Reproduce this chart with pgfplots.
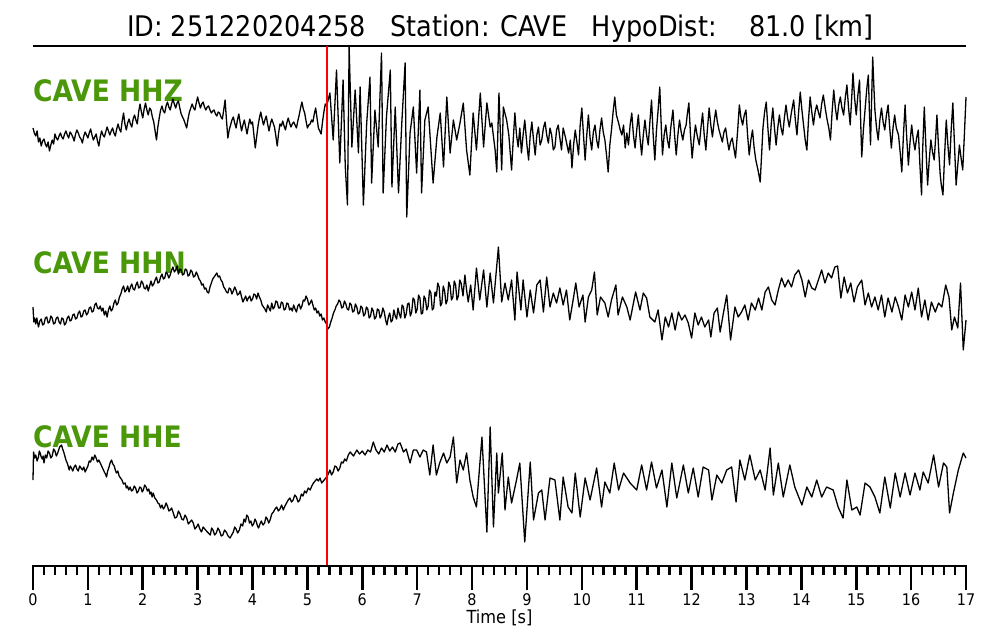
\documentclass[border=0pt]{standalone}
\usepackage{fontspec}
\setmainfont{DejaVu Sans Condensed}
\usepackage{pgfplots}
\pgfplotsset{compat=1.18}
\definecolor{lblgreen}{RGB}{74,152,10}

\begin{document}
\begin{tikzpicture}[x=1pt,y=1pt]
\useasboundingbox (0,0) rectangle (1000,640);
\node[anchor=base, inner sep=0, font=\fontsize{28.4}{34}\selectfont] at (500.5,603) {ID: 251220204258\ \ \ Station: CAVE\ \ \ HypoDist:\ \ \ \ 81.0 [km]};
\draw[line width=1.5pt] (33,594) -- (966,594);
\node[anchor=base west, inner sep=0, text=lblgreen, font=\fontsize{29.5}{35}\selectfont\bfseries] at (33,538) {CAVE HHZ};
\node[anchor=base west, inner sep=0, text=lblgreen, font=\fontsize{29.5}{35}\selectfont\bfseries] at (33,366) {CAVE HHN};
\node[anchor=base west, inner sep=0, text=lblgreen, font=\fontsize{29.5}{35}\selectfont\bfseries] at (33,193) {CAVE HHE};
\begin{axis}[at={(33pt,74pt)}, anchor=south west, scale only axis,
  width=933pt, height=520pt, xmin=0, xmax=17, ymin=46, ymax=566, y dir=reverse,
  axis x line*=bottom, axis y line=none, clip=false,
  xtick={0,1,...,17}, minor x tick num=4, tick align=outside,
  major tick length=24pt, minor tick length=9pt,
  major tick style={line width=2.6pt, black},
  minor tick style={line width=2.6pt, black},
  axis line style={line width=2.8pt, black},
  xticklabel style={font=\fontsize{16}{19}\selectfont},
  /pgf/number format/assume math mode=true,
  xlabel={Time [s]},
  xlabel style={font=\fontsize{18}{22}\selectfont, at={(axis description cs:0.5,0)}, anchor=base, yshift=-57pt}]
% HHZ
\addplot[black, line width=1.3pt, line join=round] coordinates {
(0.000,128)(0.025,133)(0.050,136)(0.075,131)(0.100,142)(0.125,138)(0.150,146)(0.175,141)(0.200,139)(0.225,144)
(0.250,147)(0.275,142)(0.300,151)(0.325,145)(0.350,140)(0.375,144)(0.400,134)(0.425,138)(0.450,140)(0.475,136)
(0.500,133)(0.525,137)(0.550,139)(0.575,134)(0.600,131)(0.625,135)(0.650,138)(0.675,132)(0.700,134)(0.725,137)
(0.750,141)(0.775,134)(0.800,130)(0.825,133)(0.850,137)(0.875,139)(0.900,143)(0.925,136)(0.950,132)(0.975,135)
(1.000,138)(1.025,133)(1.050,129)(1.075,135)(1.100,140)(1.125,137)(1.150,134)(1.175,141)(1.200,146)(1.225,137)
(1.250,131)(1.275,135)(1.300,137)(1.325,132)(1.350,127)(1.375,131)(1.400,135)(1.425,131)(1.450,128)(1.475,133)
(1.500,136)(1.525,129)(1.550,124)(1.575,129)(1.600,132)(1.625,121)(1.650,113)(1.675,124)(1.700,130)(1.725,123)
(1.750,119)(1.775,124)(1.800,127)(1.825,119)(1.850,115)(1.875,120)(1.900,124)(1.925,112)(1.950,104)(1.975,112)
(2.000,118)(2.025,109)(2.050,103)(2.075,110)(2.100,115)(2.125,108)(2.150,110)(2.175,117)(2.200,122)(2.225,131)
(2.250,140)(2.275,127)(2.300,118)(2.325,110)(2.350,106)(2.375,111)(2.400,113)(2.425,106)(2.450,102)(2.475,107)
(2.500,110)(2.525,104)(2.550,99)(2.575,104)(2.600,108)(2.625,103)(2.650,101)(2.675,108)(2.700,114)(2.725,117)
(2.750,120)(2.775,124)(2.800,128)(2.825,119)(2.850,112)(2.875,108)(2.900,104)(2.925,108)(2.950,110)(2.975,103)
(3.000,97)(3.025,103)(3.050,108)(3.075,104)(3.100,102)(3.125,107)(3.150,110)(3.175,107)(3.200,106)(3.225,110)
(3.250,113)(3.275,111)(3.300,110)(3.325,114)(3.350,116)(3.375,112)(3.400,113)(3.425,117)(3.450,119)(3.475,110)
(3.500,100)(3.525,120)(3.550,138)(3.575,130)(3.600,125)(3.625,120)(3.650,117)(3.675,123)(3.700,128)(3.725,120)
(3.750,114)(3.775,123)(3.800,131)(3.825,125)(3.850,120)(3.875,127)(3.900,134)(3.925,126)(3.950,119)(3.975,124)
(4.000,122)(4.025,135)(4.050,148)(4.075,137)(4.100,126)(4.125,118)(4.150,112)(4.175,119)(4.200,125)(4.225,120)
(4.250,116)(4.275,124)(4.300,131)(4.325,124)(4.350,119)(4.375,123)(4.400,127)(4.425,136)(4.450,146)(4.475,133)
(4.500,124)(4.525,126)(4.550,121)(4.575,126)(4.600,130)(4.625,123)(4.650,118)(4.675,123)(4.700,127)(4.725,124)
(4.750,122)(4.775,125)(4.800,128)(4.825,121)(4.850,115)(4.875,108)(4.900,102)(4.925,109)(4.950,113)(4.975,121)
(5.000,128)(5.025,125)(5.050,124)(5.075,120)(5.100,122)(5.125,114)(5.150,108)(5.175,118)(5.200,128)(5.225,131)
(5.250,134)(5.275,122)(5.300,112)(5.325,104)(5.350,106)
(5.41,93)(5.47,140)(5.53,70)(5.59,163)(5.65,80)(5.69,167)(5.73,205)(5.76,47)(5.81,147)(5.87,90)
(5.93,153)(5.96,87)(6.02,205)(6.08,123)(6.14,77)(6.17,183)(6.23,110)(6.29,147)(6.35,53)(6.38,193)
(6.44,117)(6.51,70)(6.54,187)(6.60,107)(6.66,193)(6.72,123)(6.78,63)(6.81,217)(6.87,133)(6.93,107)
(6.99,173)(7.05,90)(7.08,193)(7.14,120)(7.20,107)(7.29,183)(7.36,137)(7.42,113)(7.48,167)(7.54,97)
(7.60,153)(7.66,120)(7.72,140)(7.78,123)(7.84,103)(7.90,150)(7.96,175)(8.02,113)(8.08,150)(8.15,93)
(8.21,147)(8.27,103)(8.33,127)(8.36,123)(8.42,150)(8.45,172)(8.49,93)(8.54,170)(8.57,107)(8.63,120)
(8.67,135)(8.72,170)(8.75,140)(8.78,113)(8.81,135)(8.84,147)(8.87,128)(8.90,153)(8.93,135)(8.96,120)
(9.00,145)(9.03,160)(9.06,135)(9.09,122)(9.12,140)(9.15,155)(9.18,135)(9.21,127)(9.24,145)(9.27,140)
(9.30,128)(9.33,122)(9.36,135)(9.39,143)(9.42,128)(9.45,135)(9.48,150)(9.51,147)(9.54,130)(9.57,125)
(9.60,138)(9.63,150)(9.66,128)(9.70,137)(9.73,145)(9.76,153)(9.79,140)(9.82,168)(9.85,145)(9.88,130)
(9.91,142)(9.94,155)(9.97,125)(10.00,108)(10.03,135)(10.06,160)(10.09,135)(10.12,115)(10.15,138)(10.18,150)
(10.21,132)(10.24,125)(10.27,140)(10.30,148)(10.33,130)(10.36,118)(10.39,132)(10.42,140)(10.45,155)(10.48,172)
(10.51,145)(10.54,130)(10.57,112)(10.60,97)(10.63,115)(10.67,123)(10.70,130)(10.73,135)(10.76,125)(10.79,148)
(10.82,133)(10.85,145)(10.88,125)(10.91,113)(10.94,135)(10.97,148)(11.00,130)(11.03,115)(11.06,138)(11.09,155)
(11.12,135)(11.15,120)(11.18,135)(11.21,145)(11.24,122)(11.27,100)(11.30,135)(11.33,160)(11.36,130)(11.39,110)
(11.42,87)(11.45,130)(11.47,155)(11.50,135)(11.53,125)(11.56,140)(11.59,148)(11.62,128)(11.66,110)(11.69,135)
(11.72,155)(11.75,135)(11.78,120)(11.81,132)(11.84,140)(11.87,130)(11.90,125)(11.92,115)(11.95,103)(11.98,135)
(12.01,158)(12.04,140)(12.07,125)(12.10,135)(12.14,145)(12.17,128)(12.20,113)(12.23,135)(12.26,150)(12.29,128)
(12.32,108)(12.35,125)(12.38,137)(12.41,122)(12.44,110)(12.47,122)(12.50,130)(12.53,136)(12.56,142)(12.59,132)
(12.62,128)(12.65,140)(12.68,150)(12.71,142)(12.74,138)(12.77,148)(12.80,158)(12.84,130)(12.87,105)(12.90,118)
(12.93,125)(12.96,115)(12.99,110)(13.02,135)(13.05,155)(13.08,140)(13.11,130)(13.14,148)(13.17,160)(13.21,170)
(13.25,182)(13.28,150)(13.30,128)(13.33,112)(13.36,102)(13.39,128)(13.42,150)(13.45,125)(13.48,108)(13.51,128)
(13.54,145)(13.57,128)(13.60,115)(13.63,128)(13.66,135)(13.69,118)(13.72,105)(13.75,118)(13.78,127)(13.82,112)
(13.86,100)(13.89,120)(13.92,135)(13.95,112)(13.98,92)(14.01,110)(14.04,125)(14.07,140)(14.10,150)(14.13,120)
(14.16,97)(14.19,112)(14.22,125)(14.25,112)(14.28,105)(14.31,112)(14.34,118)(14.37,104)(14.40,95)(14.44,110)
(14.47,120)(14.50,128)(14.53,140)(14.56,112)(14.59,90)(14.62,108)(14.65,120)(14.68,105)(14.71,97)(14.74,108)
(14.77,115)(14.80,98)(14.83,85)(14.86,108)(14.89,125)(14.92,95)(14.94,73)(14.97,98)(15.00,115)(15.03,95)
(15.06,80)(15.08,120)(15.10,157)(15.13,130)(15.16,110)(15.19,90)(15.22,75)(15.24,112)(15.26,145)(15.28,100)
(15.30,57)(15.32,85)(15.34,110)(15.37,128)(15.40,140)(15.43,120)(15.46,108)(15.49,122)(15.52,130)(15.55,115)
(15.58,105)(15.61,128)(15.64,148)(15.67,128)(15.70,115)(15.73,128)(15.77,135)(15.80,152)(15.83,172)(15.86,135)
(15.89,105)(15.92,138)(15.95,165)(15.98,142)(16.01,125)(16.04,140)(16.07,150)(16.10,138)(16.13,130)(16.16,165)
(16.19,195)(16.21,150)(16.24,107)(16.27,148)(16.30,185)(16.33,160)(16.36,140)(16.39,152)(16.42,160)(16.45,135)
(16.47,115)(16.50,148)(16.53,175)(16.55,185)(16.58,195)(16.61,155)(16.64,120)(16.67,145)(16.70,165)(16.73,130)
(16.76,103)(16.79,145)(16.82,185)(16.85,165)(16.88,145)(16.91,158)(16.94,170)(16.97,135)(17.00,97)};
% HHN
\addplot[black, line width=1.3pt, line join=round] coordinates {
(0.000,307)(0.015,322)(0.030,318)(0.050,324)(0.070,318)(0.085,323)(0.100,327)(0.125,321)(0.150,319)(0.175,325)
(0.200,324)(0.225,318)(0.250,317)(0.275,323)(0.300,322)(0.325,316)(0.350,318)(0.375,324)(0.400,323)(0.425,318)
(0.450,317)(0.475,322)(0.500,324)(0.525,318)(0.550,319)(0.575,325)(0.600,323)(0.625,318)(0.650,316)(0.675,321)
(0.700,320)(0.725,315)(0.750,314)(0.775,319)(0.800,318)(0.825,313)(0.850,311)(0.875,317)(0.900,316)(0.925,311)
(0.950,310)(0.975,315)(1.000,313)(1.025,308)(1.050,307)(1.075,312)(1.100,311)(1.125,305)(1.150,303)(1.175,308)
(1.200,309)(1.225,306)(1.250,311)(1.275,308)(1.300,315)(1.325,311)(1.350,317)(1.375,310)(1.400,306)(1.425,311)
(1.450,309)(1.475,303)(1.500,300)(1.525,305)(1.550,303)(1.575,297)(1.600,294)(1.625,289)(1.650,286)(1.675,292)
(1.700,290)(1.725,286)(1.750,292)(1.775,287)(1.800,284)(1.825,289)(1.850,290)(1.875,285)(1.900,282)(1.925,288)
(1.950,287)(1.975,281)(2.000,283)(2.025,288)(2.050,289)(2.075,285)(2.100,291)(2.125,286)(2.150,281)(2.175,286)
(2.200,284)(2.225,280)(2.250,277)(2.275,283)(2.300,282)(2.325,277)(2.350,274)(2.375,279)(2.400,278)(2.425,272)
(2.450,274)(2.475,278)(2.500,275)(2.525,270)(2.550,267)(2.575,272)(2.600,270)(2.625,266)(2.650,274)(2.675,269)
(2.700,270)(2.725,275)(2.750,274)(2.775,269)(2.800,270)(2.825,276)(2.850,275)(2.875,270)(2.900,272)(2.925,277)
(2.950,276)(2.975,272)(3.000,275)(3.025,279)(3.050,281)(3.075,285)(3.100,284)(3.125,289)(3.150,288)(3.175,292)
(3.200,293)(3.225,287)(3.250,283)(3.275,279)(3.300,277)(3.325,275)(3.350,273)(3.375,277)(3.400,276)(3.425,280)
(3.450,282)(3.475,287)(3.500,289)(3.525,292)(3.550,293)(3.575,288)(3.600,289)(3.625,294)(3.650,291)(3.675,287)
(3.700,290)(3.725,295)(3.750,294)(3.775,291)(3.800,297)(3.825,302)(3.850,299)(3.875,296)(3.900,301)(3.925,298)
(3.950,296)(3.975,301)(4.000,299)(4.025,294)(4.050,295)(4.075,299)(4.100,293)(4.125,297)(4.150,300)(4.175,305)
(4.200,307)(4.225,309)(4.250,312)(4.275,305)(4.300,308)(4.325,311)(4.350,303)(4.375,309)(4.400,307)(4.425,301)
(4.450,302)(4.475,308)(4.500,308)(4.525,302)(4.550,303)(4.575,310)(4.600,309)(4.625,303)(4.650,304)(4.675,310)
(4.700,308)(4.725,311)(4.750,305)(4.775,309)(4.800,312)(4.825,306)(4.850,304)(4.875,309)(4.900,306)(4.925,300)
(4.950,301)(4.975,296)(5.000,299)(5.025,305)(5.050,303)(5.075,300)(5.100,305)(5.125,310)(5.150,308)(5.175,313)
(5.200,311)(5.225,316)(5.250,314)(5.275,320)(5.300,318)(5.325,322)(5.350,324)(5.375,329)(5.400,327)(5.425,322)
(5.450,318)(5.475,313)(5.500,310)(5.525,306)(5.550,304)(5.575,300)(5.600,302)(5.625,308)(5.650,307)(5.675,301)
(5.700,304)(5.725,309)(5.750,310)(5.775,303)(5.800,305)(5.825,312)(5.850,311)(5.875,304)(5.900,307)(5.925,314)
(5.950,313)(5.975,306)(6.000,308)(6.025,316)(6.050,314)(6.075,307)(6.100,309)(6.125,318)(6.150,316)(6.175,308)
(6.200,311)(6.225,319)(6.250,317)(6.275,309)(6.300,310)(6.325,318)(6.350,315)(6.375,308)(6.400,312)(6.425,320)
(6.450,325)(6.475,317)(6.500,313)(6.525,322)(6.550,320)(6.575,310)(6.600,316)(6.625,319)(6.650,308)(6.675,314)
(6.700,318)(6.725,305)(6.750,307)(6.775,318)(6.800,314)(6.825,304)(6.850,303)(6.875,316)(6.900,312)(6.925,298)
(6.950,300)(6.975,313)(7.000,309)(7.025,295)(7.050,298)(7.075,314)(7.100,313)(7.125,296)(7.150,299)(7.175,310)
(7.200,306)(7.225,290)(7.250,293)(7.275,310)(7.300,308)(7.325,292)(7.350,296)(7.375,283)(7.400,287)(7.425,306)
(7.450,303)(7.475,286)(7.500,291)(7.525,304)(7.550,300)(7.575,282)(7.600,286)(7.625,300)(7.650,297)(7.675,281)
(7.700,285)(7.725,300)(7.750,296)(7.775,280)(7.800,283)(7.835,296)(7.870,275)(7.900,290)(7.930,302)(7.975,285)
(8.02,310)(8.08,268)(8.14,300)(8.21,270)(8.27,307)(8.33,273)(8.39,303)(8.48,247)(8.54,302)(8.60,283)
(8.66,300)(8.72,280)(8.78,320)(8.82,272)(8.89,310)(8.93,280)(9.00,317)(9.06,290)(9.12,313)(9.18,285)
(9.24,280)(9.30,312)(9.36,277)(9.42,307)(9.48,293)(9.54,303)(9.60,288)(9.66,305)(9.72,290)(9.78,320)
(9.85,297)(9.89,283)(9.95,307)(10.02,295)(10.06,322)(10.12,297)(10.18,290)(10.23,272)(10.28,315)(10.34,297)
(10.42,303)(10.48,317)(10.54,300)(10.62,285)(10.66,315)(10.74,297)(10.82,307)(10.88,320)(10.98,292)(11.06,310)
(11.12,293)(11.18,298)(11.24,317)(11.33,322)(11.39,310)(11.46,340)(11.52,317)(11.58,327)(11.64,313)(11.70,330)
(11.76,312)(11.82,320)(11.88,315)(11.94,323)(12.00,338)(12.06,313)(12.12,325)(12.18,317)(12.24,327)(12.31,320)
(12.35,337)(12.41,313)(12.47,308)(12.52,332)(12.58,313)(12.64,295)(12.71,340)(12.79,307)(12.85,317)(12.91,312)
(12.97,305)(13.03,320)(13.09,303)(13.16,310)(13.22,298)(13.28,310)(13.34,292)(13.40,287)(13.46,300)(13.52,305)
(13.58,290)(13.64,278)(13.70,287)(13.76,280)(13.82,287)(13.88,275)(13.95,270)(14.01,280)(14.07,297)(14.13,280)
(14.19,288)(14.25,290)(14.31,280)(14.37,270)(14.43,283)(14.49,273)(14.55,278)(14.61,267)(14.66,266)(14.72,298)
(14.78,277)(14.84,293)(14.90,283)(14.96,302)(15.02,287)(15.10,280)(15.16,305)(15.22,293)(15.28,307)(15.34,297)
(15.40,310)(15.46,295)(15.52,317)(15.58,298)(15.65,312)(15.71,297)(15.77,307)(15.83,320)(15.89,295)(15.95,307)
(16.01,292)(16.07,310)(16.13,288)(16.19,317)(16.25,300)(16.31,320)(16.37,302)(16.44,312)(16.50,303)(16.56,307)
(16.63,285)(16.69,297)(16.74,330)(16.79,317)(16.85,328)(16.90,283)(16.95,350)(17.00,320)};
% HHE
\addplot[black, line width=1.3pt, line join=round] coordinates {
(0.00,480)(0.01,452)(0.03,458)(0.05,455)(0.075,461)(0.10,457)(0.115,451)(0.13,453)(0.15,457)(0.17,459)
(0.185,456)(0.20,463)(0.225,455)(0.25,458)(0.275,451)(0.30,453)(0.325,458)(0.35,456)(0.375,449)(0.40,451)
(0.425,456)(0.45,453)(0.485,447)(0.52,445)(0.54,449)(0.56,452)(0.58,456)(0.60,460)(0.63,464)(0.66,470)
(0.68,466)(0.70,468)(0.725,471)(0.75,467)(0.775,465)(0.80,469)(0.825,471)(0.85,466)(0.875,468)(0.90,470)
(0.925,467)(0.95,472)(0.975,469)(1.00,466)(1.025,461)(1.05,462)(1.075,457)(1.10,460)(1.125,455)(1.15,458)
(1.175,462)(1.20,460)(1.225,463)(1.25,466)(1.275,469)(1.30,472)(1.32,474)(1.34,477)(1.36,471)(1.38,468)
(1.405,463)(1.43,460)(1.455,464)(1.48,466)(1.50,470)(1.52,473)(1.545,471)(1.57,476)(1.595,478)(1.62,480)
(1.65,484)(1.68,483)(1.70,488)(1.72,486)(1.745,490)(1.77,487)(1.795,491)(1.82,490)(1.845,486)(1.87,488)
(1.895,493)(1.92,491)(1.945,487)(1.97,488)(1.99,492)(2.01,490)(2.035,485)(2.06,487)(2.085,491)(2.11,489)
(2.13,494)(2.15,492)(2.17,497)(2.19,493)(2.22,498)(2.25,500)(2.275,503)(2.30,504)(2.325,508)(2.35,505)
(2.375,509)(2.40,507)(2.425,503)(2.45,506)(2.475,511)(2.50,510)(2.525,508)(2.55,512)(2.585,518)(2.62,517)
(2.65,511)(2.68,514)(2.71,519)(2.74,520)(2.77,515)(2.80,518)(2.83,524)(2.86,522)(2.89,520)(2.92,523)
(2.95,529)(2.98,527)(3.01,524)(3.04,529)(3.07,532)(3.10,527)(3.13,529)(3.16,531)(3.195,533)(3.23,535)
(3.255,528)(3.28,530)(3.31,535)(3.34,533)(3.37,528)(3.40,531)(3.43,536)(3.46,535)(3.49,530)(3.52,532)
(3.555,536)(3.59,538)(3.62,535)(3.65,532)(3.675,527)(3.70,529)(3.73,533)(3.76,530)(3.79,524)(3.82,526)
(3.845,519)(3.87,522)(3.895,515)(3.92,517)(3.945,523)(3.97,521)(3.995,526)(4.02,524)(4.045,519)(4.07,522)
(4.09,526)(4.11,528)(4.135,524)(4.16,521)(4.19,525)(4.22,523)(4.245,517)(4.27,519)(4.295,523)(4.32,520)
(4.35,514)(4.38,512)(4.41,509)(4.44,507)(4.47,511)(4.50,509)(4.53,505)(4.56,510)(4.59,506)(4.62,503)
(4.65,500)(4.68,498)(4.71,502)(4.74,500)(4.77,495)(4.80,497)(4.83,502)(4.86,500)(4.89,494)(4.92,496)
(4.95,491)(4.98,493)(5.015,488)(5.05,490)(5.08,486)(5.11,483)(5.14,481)(5.17,479)(5.20,481)(5.23,478)
(5.26,483)(5.29,481)(5.32,479)(5.35,477)(5.38,474)(5.41,470)(5.44,475)(5.47,472)(5.50,466)(5.53,467)
(5.56,471)(5.59,468)(5.62,462)(5.65,463)(5.68,459)(5.71,461)(5.745,455)(5.78,452)
(5.84,456)(5.90,450)(5.95,454)(6.00,451)(6.05,455)(6.10,450)(6.15,452)(6.20,442)(6.25,450)(6.30,454)
(6.35,448)(6.40,452)(6.45,445)(6.50,451)(6.55,447)(6.60,452)(6.65,444)(6.69,443)(6.75,452)(6.80,449)
(6.87,463)(6.93,450)(6.99,450)(7.05,457)(7.11,450)(7.17,452)(7.23,475)(7.29,445)(7.35,475)(7.41,463)
(7.48,453)(7.54,463)(7.60,457)(7.66,437)(7.72,483)(7.78,460)(7.84,470)(7.90,453)(7.96,480)(8.02,497)
(8.08,507)(8.18,437)(8.27,532)(8.33,427)(8.39,527)(8.45,453)(8.48,493)(8.55,453)(8.60,510)(8.66,477)
(8.72,503)(8.81,480)(8.87,463)(8.96,542)(9.06,462)(9.12,520)(9.21,493)(9.27,490)(9.33,520)(9.42,478)
(9.51,480)(9.60,520)(9.66,477)(9.75,507)(9.82,513)(9.88,473)(9.97,517)(10.06,478)(10.15,500)(10.27,468)
(10.36,507)(10.42,482)(10.51,493)(10.59,463)(10.67,490)(10.76,473)(10.88,483)(11.00,490)(11.09,465)(11.18,490)
(11.27,462)(11.36,488)(11.46,470)(11.55,507)(11.64,463)(11.73,498)(11.85,465)(11.94,493)(12.03,468)(12.12,497)
(12.21,467)(12.31,470)(12.37,500)(12.46,475)(12.55,483)(12.64,470)(12.73,467)(12.81,502)(12.88,460)(12.97,480)
(13.06,455)(13.16,480)(13.25,470)(13.34,490)(13.43,448)(13.49,495)(13.58,463)(13.67,497)(13.79,465)(13.88,487)
(14.01,505)(14.10,487)(14.19,497)(14.28,480)(14.37,497)(14.46,487)(14.58,490)(14.67,507)(14.76,518)(14.83,480)
(14.92,510)(15.01,507)(15.07,515)(15.16,483)(15.25,487)(15.34,497)(15.43,513)(15.52,477)(15.62,508)(15.71,473)
(15.80,497)(15.89,473)(15.98,495)(16.07,473)(16.16,490)(16.22,472)(16.31,483)(16.41,455)(16.50,487)(16.59,463)
(16.65,467)(16.70,513)(16.77,493)(16.86,470)(16.95,453)(17.00,458)};
% P pick
\addplot[red, line width=1.2pt] coordinates {(5.355,46) (5.355,566)};
\end{axis}
% axis line and ticks, drawn once more at full weight
\draw[line width=2.8pt, black, line cap=butt] (31.6,74) -- (967.4,74);
\foreach \i in {0,...,17} {\draw[line width=2.6pt, black, line cap=butt] ({33+\i*54.88235},74) -- ++(0,-24);}
\foreach \i in {1,...,84} {\draw[line width=2.6pt, black, line cap=butt] ({33+\i*10.97647},74) -- ++(0,-9);}
\end{tikzpicture}
\end{document}
